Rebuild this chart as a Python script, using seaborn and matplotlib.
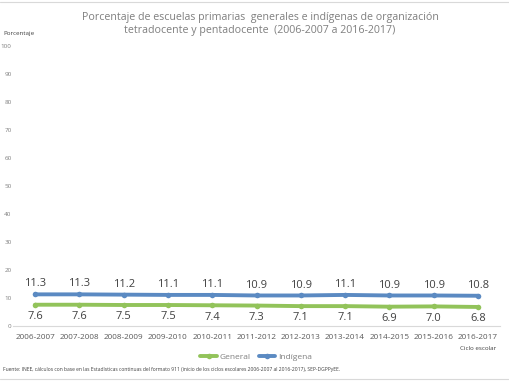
import pandas as pd
import seaborn as sns
import matplotlib.pyplot as plt

# ciclos escolares y porcentajes
ciclos = ['2006-2007', '2007-2008', '2008-2009', '2009-2010', '2010-2011', '2011-2012',
          '2012-2013', '2013-2014', '2014-2015', '2015-2016', '2016-2017']
general = [7.6, 7.6, 7.5, 7.5, 7.4, 7.3, 7.1, 7.1, 6.9, 7.0, 6.8]
indigena = [11.3, 11.3, 11.2, 11.1, 11.1, 10.9, 10.9, 11.1, 10.9, 10.9, 10.8]
y_ticks = [0, 10, 20, 30, 40, 50, 60, 70, 80, 90, 100]

df = pd.DataFrame({'ciclo': ciclos * 2,
                   'valor': general + indigena,
                   'tipo': ['General'] * len(ciclos) + ['Indígena'] * len(ciclos)})

sns.set_style('white')
plt.rcParams['font.family'] = ['Open Sans', 'DejaVu Sans']

fig = plt.figure(figsize=(5.1, 3.82), dpi=100)
ax = fig.add_axes([0.0255, 0.1466, 0.955, 0.733])

colores = {'General': '#92C35A', 'Indígena': '#5B8AC2'}
sns.lineplot(data=df, x='ciclo', y='valor', hue='tipo', palette=colores, ax=ax,
             marker='o', markersize=4, linewidth=2.8, markeredgewidth=0, sort=False)

# etiquetas de datos
for i, (g, ind) in enumerate(zip(general, indigena)):
    ax.annotate(f'{ind:.1f}', (i, ind), xytext=(0, 3.5), textcoords='offset points',
                ha='center', va='bottom', fontsize=8, color='#404040')
    ax.annotate(f'{g:.1f}', (i, g), xytext=(0, -4.5), textcoords='offset points',
                ha='center', va='top', fontsize=8, color='#404040')

ax.set_xlim(-0.5, len(ciclos) - 0.5)
ax.set_ylim(0, 100)
ax.set_yticks(y_ticks)
ax.tick_params(axis='y', labelsize=4.5, colors='#7F7F7F', pad=1, length=0)
ax.tick_params(axis='x', labelsize=5.9, colors='#595959', pad=6, length=0)
ax.set_xlabel('')
ax.set_ylabel('')
for s in ['top', 'right', 'left']:
    ax.spines[s].set_visible(False)
ax.spines['bottom'].set_color('#D9D9D9')
ax.spines['bottom'].set_linewidth(0.8)

handles, labels = ax.get_legend_handles_labels()
ax.legend(handles, labels, loc='center', bbox_to_anchor=(256 / 510, 1 - 357 / 382),
          bbox_transform=fig.transFigure, ncol=2, frameon=False, fontsize=6,
          labelcolor='#7F7F7F', handlelength=2.0, handletextpad=0.3, columnspacing=1.0)

fig.text(0.51, 1 - 24 / 382,
         'Porcentaje de escuelas primarias  generales e indígenas de organización\n'
         'tetradocente y pentadocente  (2006-2007 a 2016-2017)',
         ha='center', va='center', fontsize=7.7, color='#7F7F7F', linespacing=1.35)
fig.text(3 / 510, 1 - 33 / 382, 'Porcentaje', fontsize=4.5, color='#404040', va='center')
fig.text(478 / 510, 1 - 348 / 382, 'Ciclo escolar', fontsize=4.5, color='#404040',
         ha='center', va='center')
fig.text(3 / 510, 1 - 370 / 382,
         'Fuente: INEE, cálculos con base en las Estadísticas continuas del formato 911 '
         '(inicio de los ciclos escolares 2006-2007 al 2016-2017), SEP-DGPPyEE.',
         fontsize=3.6, color='#404040', va='center')

fig.add_artist(plt.Line2D([0, 1], [1 - 2 / 382] * 2, color='#D9D9D9', lw=0.8))
fig.add_artist(plt.Line2D([0, 1], [1 - 379 / 382] * 2, color='#D9D9D9', lw=0.8))

fig.savefig('out.png', dpi=100)
